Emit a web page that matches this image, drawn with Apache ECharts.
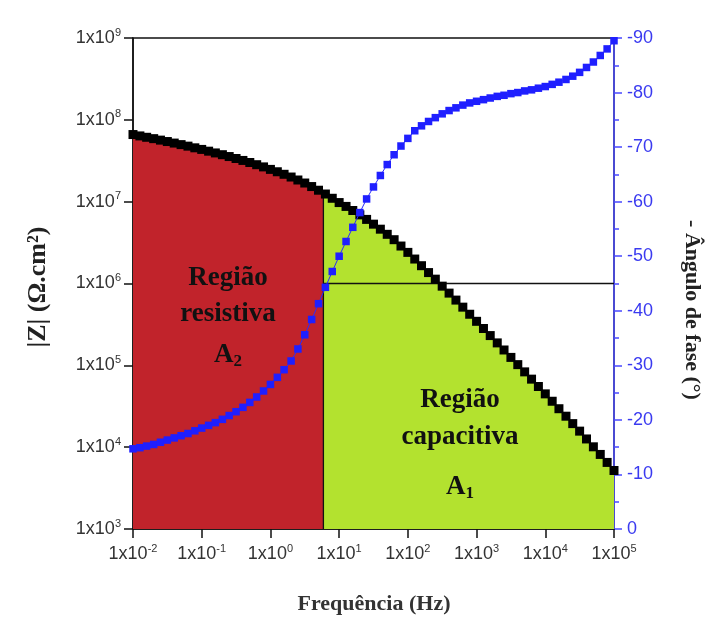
<!DOCTYPE html>
<html>
<head>
<meta charset="utf-8">
<script src="https://cdn.jsdelivr.net/npm/echarts@6/dist/echarts.min.js"></script>
<style>
  html, body { margin: 0; padding: 0; background: #fff; }
  #chart { width: 710px; height: 625px; }
</style>
</head>
<body>
<div id="chart"></div>
<script>
// Measurement frequencies (Hz), 10 points per decade
const freq = [
  0.01, 0.0126, 0.0158, 0.02, 0.0251, 0.0316, 0.0398, 0.0501, 0.0631, 0.0794,
  0.1, 0.126, 0.158, 0.2, 0.251, 0.316, 0.398, 0.501, 0.631, 0.794,
  1, 1.26, 1.58, 2, 2.51, 3.16, 3.98, 5.01, 6.31, 7.94,
  10, 12.6, 15.8, 20, 25.1, 31.6, 39.8, 50.1, 63.1, 79.4,
  100, 126, 158, 200, 251, 316, 398, 501, 631, 794,
  1000, 1260, 1580, 2000, 2510, 3160, 3980, 5010, 6310, 7940,
  10000, 12600, 15800, 20000, 25100, 31600, 39800, 50100, 63100, 79400,
  100000
];

// Impedance modulus |Z| (Ohm.cm2)
const modZ = [
  6.61e7, 6.36e7, 6.12e7, 5.89e7, 5.65e7, 5.43e7, 5.20e7, 4.98e7, 4.77e7, 4.55e7,
  4.35e7, 4.14e7, 3.94e7, 3.75e7, 3.56e7, 3.37e7, 3.19e7, 3.01e7, 2.83e7, 2.66e7,
  2.48e7, 2.32e7, 2.16e7, 2.00e7, 1.84e7, 1.69e7, 1.53e7, 1.38e7, 1.24e7, 1.10e7,
  9.75e6, 8.75e6, 7.80e6, 6.90e6, 6.07e6, 5.31e6, 4.61e6, 3.99e6, 3.43e6, 2.87e6,
  2.40e6, 1.99e6, 1.65e6, 1.36e6, 1.13e6, 9.28e5, 7.63e5, 6.27e5, 5.14e5, 4.21e5,
  3.45e5, 2.82e5, 2.31e5, 1.88e5, 1.54e5, 1.25e5, 1.02e5, 8.32e4, 6.78e4, 5.51e4,
  4.48e4, 3.64e4, 2.95e4, 2.39e4, 1.94e4, 1.57e4, 1.26e4, 1.01e4, 8.15e3, 6.51e3,
  5.19e3
];

// Phase angle (degrees)
const phase = [
  -14.7, -14.9, -15.2, -15.5, -15.9, -16.3, -16.7, -17.1, -17.5, -18.0,
  -18.5, -19.0, -19.5, -20.1, -20.8, -21.5, -22.3, -23.2, -24.2, -25.3,
  -26.5, -27.8, -29.2, -30.8, -33.0, -35.6, -38.4, -41.3, -44.3, -47.2,
  -50.0, -52.7, -55.3, -58.0, -60.5, -62.7, -64.8, -66.8, -68.6, -70.2,
  -71.6, -73.0, -73.9, -74.7, -75.4, -76.1, -76.7, -77.2, -77.7, -78.1,
  -78.4, -78.7, -79.0, -79.3, -79.5, -79.8, -80.0, -80.3, -80.5, -80.8,
  -81.1, -81.5, -81.9, -82.4, -83.0, -83.7, -84.6, -85.6, -86.8, -88.0,
  -89.5
];

// Split between the resistive and capacitive regions, and the |Z| = 1e6 reference
const splitFreq = 5.9;
const splitZ = 1.28e7;
const refZ = 1e6;
const freqRange = [0.01, 1e5];
const zRange = [1e3, 1e9];
const phaseRange = [-90, 0];

const zPoints = freq.map((f, i) => [f, modZ[i]]);
const phasePoints = freq.map((f, i) => [f, phase[i]]);
const resistive = zPoints.filter(p => p[0] < splitFreq).concat([[splitFreq, splitZ]]);
const capacitive = [[splitFreq, splitZ]].concat(zPoints.filter(p => p[0] > splitFreq));

const labelFont = 'Liberation Sans, Arial, sans-serif';
const serifFont = 'Liberation Serif, Times New Roman, serif';

function powLabel(v) {
  const e = Math.round(Math.log10(v));
  return '{b|1x10}{sup|' + e + '}';
}
const powRich = {
  b: { fontSize: 18, lineHeight: 22, fontFamily: labelFont, color: '#333' },
  sup: { fontSize: 11, lineHeight: 12, verticalAlign: 'top', fontFamily: labelFont, color: '#333' }
};

const subRich = {
  a: { font: 'bold 27px ' + serifFont, fill: '#111', lineHeight: 30 },
  s: { font: 'bold 17px ' + serifFont, fill: '#111', lineHeight: 14, verticalAlign: 'bottom' }
};

const chart = echarts.init(document.getElementById('chart'), null, { renderer: 'canvas' });

chart.setOption({
  animation: false,
  backgroundColor: '#fff',
  grid: {
    left: 133, right: 96, top: 38, bottom: 96,
    show: true, borderColor: '#111', borderWidth: 1.5, backgroundColor: 'transparent'
  },
  xAxis: {
    type: 'log', logBase: 10, min: freqRange[0], max: freqRange[1],
    axisLine: { lineStyle: { color: '#111', width: 1.5 } },
    axisTick: { show: true, inside: false, length: 9, lineStyle: { color: '#111', width: 1.5 } },
    axisLabel: { formatter: powLabel, rich: powRich, margin: 14 },
    splitLine: { show: false }
  },
  yAxis: [
    {
      type: 'log', logBase: 10, min: zRange[0], max: zRange[1],
      axisLine: { show: true, lineStyle: { color: '#111', width: 1.5 } },
      axisTick: { show: true, inside: false, length: 9, lineStyle: { color: '#111', width: 1.5 } },
      axisLabel: { formatter: powLabel, rich: powRich, margin: 12 },
      splitLine: { show: false }
    },
    {
      type: 'value', position: 'right', inverse: true,
      min: phaseRange[0], max: phaseRange[1], interval: 10,
      axisLine: { show: true, lineStyle: { color: '#4a4aff', width: 1.5 } },
      axisTick: { show: true, inside: false, length: 8, lineStyle: { color: '#4a4aff', width: 1.5 } },
      minorTick: { show: true, splitNumber: 2, length: 5, lineStyle: { color: '#4a4aff', width: 1.5 } },
      axisLabel: {
        color: '#3a3af0', fontSize: 18, fontFamily: labelFont, margin: 13,
        formatter: v => (v === 0 ? '0' : '-' + Math.abs(v))
      },
      splitLine: { show: false }
    }
  ],
  graphic: [
    {
      type: 'text', z: 50, silent: true,
      style: {
        text: 'Região\nresistiva',
        x: 228, y: 296, align: 'center', verticalAlign: 'middle',
        font: 'bold 27px ' + serifFont, fill: '#111', lineHeight: 36
      }
    },
    {
      type: 'text', z: 50, silent: true,
      style: { text: '{a|A}{s|2}', x: 228, y: 355, align: 'center', verticalAlign: 'middle', rich: subRich }
    },
    {
      type: 'text', z: 50, silent: true,
      style: {
        text: 'Região\ncapacitiva',
        x: 460, y: 419, align: 'center', verticalAlign: 'middle',
        font: 'bold 27px ' + serifFont, fill: '#111', lineHeight: 37
      }
    },
    {
      type: 'text', z: 50, silent: true,
      style: { text: '{a|A}{s|1}', x: 460, y: 487, align: 'center', verticalAlign: 'middle', rich: subRich }
    },
    {
      type: 'text', z: 50, silent: true,
      x: 38, y: 287, rotation: Math.PI / 2,
      style: {
        text: '|Z| (Ω.cm²)', x: 0, y: 0, align: 'center', verticalAlign: 'middle',
        font: 'bold 26px ' + serifFont, fill: '#222'
      }
    },
    {
      type: 'text', z: 50, silent: true,
      x: 692, y: 310, rotation: -Math.PI / 2,
      style: {
        text: '- Ângulo de fase (°)', x: 0, y: 0, align: 'center', verticalAlign: 'middle',
        font: 'bold 22px ' + serifFont, fill: '#222'
      }
    },
    {
      type: 'text', z: 50, silent: true,
      style: {
        text: 'Frequência (Hz)', x: 374, y: 604, align: 'center', verticalAlign: 'middle',
        font: 'bold 22px ' + serifFont, fill: '#333'
      }
    }
  ],
  series: [
    {
      name: 'resistiva', type: 'line', yAxisIndex: 0, data: resistive,
      showSymbol: false, lineStyle: { width: 0 }, z: 1,
      areaStyle: { color: '#c1232b', opacity: 1, origin: 'start' }
    },
    {
      name: 'capacitiva', type: 'line', yAxisIndex: 0, data: capacitive,
      showSymbol: false, lineStyle: { width: 0 }, z: 1,
      areaStyle: { color: '#b3e22f', opacity: 1, origin: 'start' }
    },
    {
      name: 'limite', type: 'line', yAxisIndex: 0,
      data: [[splitFreq, zRange[0]], [splitFreq, splitZ]],
      showSymbol: false, lineStyle: { color: '#111', width: 1.3 }, z: 2
    },
    {
      name: 'referencia', type: 'line', yAxisIndex: 0,
      data: [[splitFreq, refZ], [freqRange[1], refZ]],
      showSymbol: false, lineStyle: { color: '#111', width: 1.3 }, z: 2
    },
    {
      name: '|Z|', type: 'line', yAxisIndex: 0, data: zPoints,
      symbol: 'rect', symbolSize: 9, showSymbol: true, showAllSymbol: true,
      itemStyle: { color: '#000' }, lineStyle: { color: '#000', width: 1 }, z: 3
    },
    {
      name: 'fase', type: 'line', yAxisIndex: 1, data: phasePoints,
      symbol: 'rect', symbolSize: 7.5, showSymbol: true, showAllSymbol: true,
      itemStyle: { color: '#1f1fff' }, lineStyle: { color: '#2a2aff', width: 1 }, z: 4
    }
  ]
});
</script>
</body>
</html>
